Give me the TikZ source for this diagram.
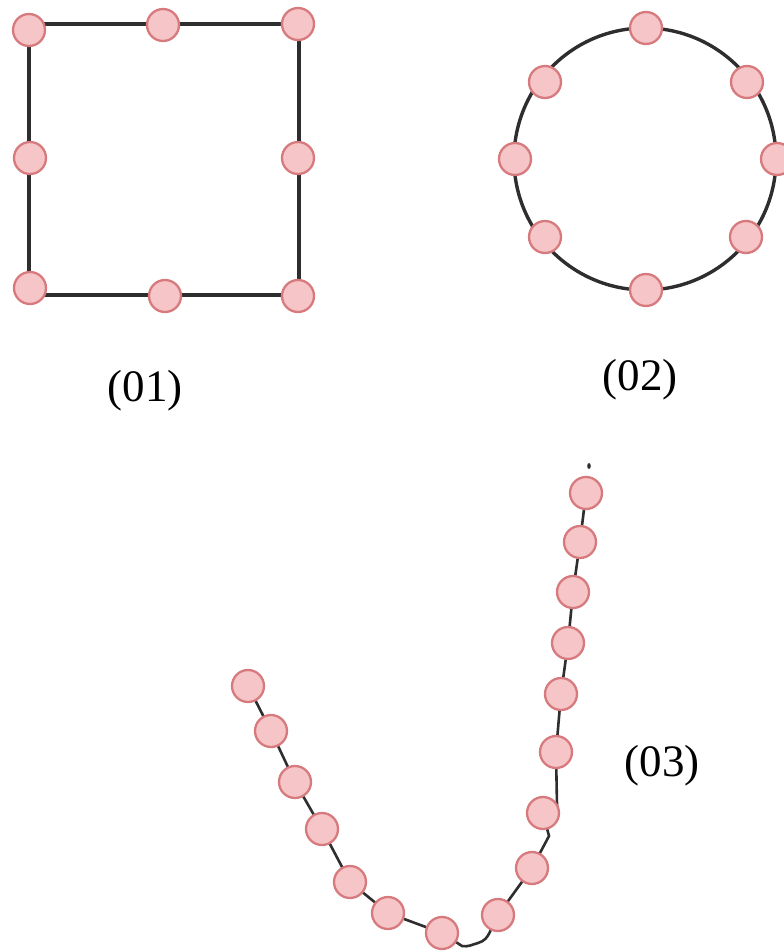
\documentclass[tikz,border=0pt]{standalone}
\usepackage{fontspec}
\setmainfont{Liberation Serif}
\definecolor{bfill}{HTML}{F5C5C7}
\definecolor{bdraw}{HTML}{D77A7E}
\definecolor{wire}{HTML}{2E2E2E}
\begin{document}
\begin{tikzpicture}[x=1pt,y=-1pt,
  bead/.style={circle,fill=bfill,draw=bdraw,line width=2.3pt,minimum size=32pt,inner sep=0pt},
  wireline/.style={draw=wire,line width=3.4pt},
  thinwire/.style={draw=wire,line width=2.6pt},
  lbl/.style={font=\fontsize{45}{50}\selectfont,inner sep=0pt}]
\useasboundingbox (0,0) rectangle (784,951);
% (01) square
\draw[wireline] (29,24) rectangle (299,295);
\node[bead] (s1) at (29,30) {};
\node[bead] (s2) at (163,25) {};
\node[bead] (s3) at (298,24) {};
\node[bead] (s4) at (30,158) {};
\node[bead] (s5) at (298,158) {};
\node[bead] (s6) at (30,288) {};
\node[bead] (s7) at (165,296) {};
\node[bead] (s8) at (298,296) {};
\node[lbl] (l1) at (145,391) {(01)};
% (02) circle
\draw[wireline] (645,159) circle (131);
\node[bead] (c1) at (646,28) {};
\node[bead] (c2) at (545,82) {};
\node[bead] (c3) at (515,159) {};
\node[bead] (c4) at (545,237) {};
\node[bead] (c5) at (646,290) {};
\node[bead] (c6) at (746,237) {};
\node[bead] (c7) at (777,159) {};
\node[bead] (c8) at (747,82) {};
\node[lbl] (l2) at (640,380) {(02)};
% (03) chain
\coordinate (p1) at (586,493);
\coordinate (p2) at (580,542);
\coordinate (p3) at (573,592);
\coordinate (p4) at (568,643);
\coordinate (p5) at (561,694);
\coordinate (p6) at (556,752);
\coordinate (p7) at (543,813);
\coordinate (p8) at (532,868);
\coordinate (p9) at (498,915);
\coordinate (p10) at (442,933);
\coordinate (p11) at (388,913);
\coordinate (p12) at (350,882);
\coordinate (p13) at (322,829);
\coordinate (p14) at (295,782);
\coordinate (p15) at (271,731);
\coordinate (p16) at (248,686);
\coordinate (b67) at (557,805);
\coordinate (b78) at (549,836);
\coordinate (b910a) at (478,943);
\coordinate (b910b) at (462,946);
\draw[thinwire] (p1) -- (p2) -- (p3) -- (p4) -- (p5) -- (p6) -- (b67) -- (p7);
\draw[thinwire] (p7) -- (b78) -- (p8) -- (p9);
\draw[thinwire] (p9) to[out=-125,in=15] (b910a) to[out=195,in=-10] (b910b) -- (p10);
\draw[thinwire] (p10) -- (p11) -- (p12) -- (p13) -- (p14) -- (p15) -- (p16);
\fill[wire] (589,466) ellipse (1.8 and 3);
\foreach \i in {1,...,16} {\node[bead] (k\i) at (p\i) {};}
\node[lbl] (l3) at (662,766) {(03)};
\end{tikzpicture}
\end{document}
